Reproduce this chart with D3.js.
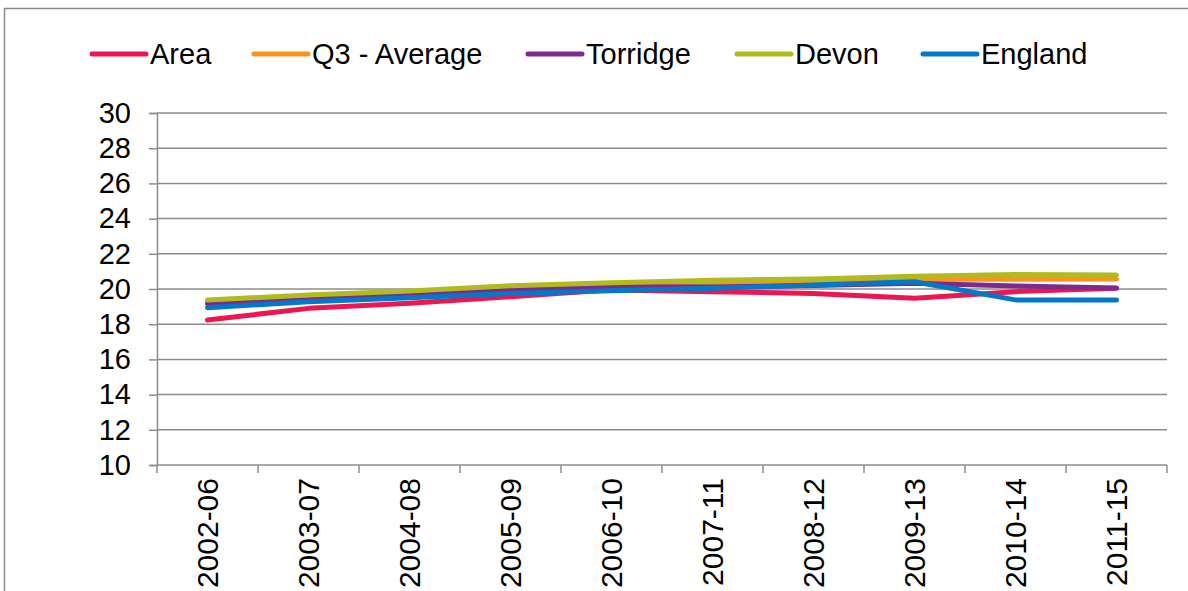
<!DOCTYPE html>
<html><head><meta charset="utf-8">
<script src="https://cdn.jsdelivr.net/npm/d3@7"></script>
<style>body{margin:0;background:#fff;}svg{display:block;font-family:Arial,"Liberation Sans",sans-serif;}</style>
</head><body>
<svg id="c" width="1188" height="591"></svg>
<script>
const categories = ["2002-06","2003-07","2004-08","2005-09","2006-10","2007-11","2008-12","2009-13","2010-14","2011-15"];
const seriesNames = ["Area","Q3 - Average","Torridge","Devon","England"];
const seriesColors = ["#ED1651","#F7941D","#7D2A8F","#B2BB1E","#0079C8"];
const area     = [18.24,18.90,19.19,19.56,19.95,19.85,19.75,19.47,19.85,20.04];
const q3avg    = [19.30,19.60,19.85,20.10,20.30,20.32,20.45,20.55,20.55,20.57];
const torridge = [19.15,19.40,19.70,19.95,20.13,20.12,20.20,20.32,20.17,20.05];
const devon    = [19.38,19.66,19.89,20.19,20.36,20.50,20.57,20.72,20.83,20.80];
const england  = [18.94,19.28,19.50,19.75,19.90,20.04,20.23,20.41,19.38,19.38];
const yTicks = [10,12,14,16,18,20,22,24,26,28,30];
const allSeries = [area,q3avg,torridge,devon,england];

const svg = d3.select("#c");
const L=157,R=1167,T=113,B=465;
const x = d3.scaleBand().domain(categories).range([L,R]);
const y = d3.scaleLinear().domain([10,30]).range([B,T]);

// outer border
svg.append("rect").attr("x",4.5).attr("y",8.5).attr("width",1200).attr("height",600)
  .attr("fill","none").attr("stroke","#8a8a8a").attr("stroke-width",1.5);

// gridlines
svg.append("g").selectAll("line").data(yTicks.filter(d=>d>10)).join("line")
  .attr("x1",L).attr("x2",R).attr("y1",d=>y(d)).attr("y2",d=>y(d))
  .attr("stroke","#8c8c8c").attr("stroke-width",1.5);

// y axis
const yAxis = svg.append("g").attr("transform",`translate(${L},0)`)
  .call(d3.axisLeft(y).tickValues(yTicks).tickSize(8).tickPadding(18));
yAxis.select(".domain").attr("stroke","#8c8c8c").attr("stroke-width",1.5);
yAxis.selectAll(".tick line").attr("stroke","#8c8c8c").attr("stroke-width",1.5);
yAxis.selectAll("text").attr("font-size",29).attr("fill","#000").attr("font-family","Arial, 'Liberation Sans', sans-serif");

// x axis
const xAxisG = svg.append("g").attr("transform",`translate(0,${B})`);
xAxisG.append("line").attr("x1",L).attr("x2",R).attr("stroke","#8c8c8c").attr("stroke-width",1.5);
const bounds = categories.map(c=>x(c)).concat([R]);
xAxisG.selectAll("line.t").data(bounds).join("line").attr("class","t")
  .attr("x1",d=>d).attr("x2",d=>d).attr("y1",0).attr("y2",8)
  .attr("stroke","#8c8c8c").attr("stroke-width",1.5);
xAxisG.selectAll("text").data(categories).join("text")
  .attr("transform",d=>`translate(${x(d)+x.bandwidth()/2},13) rotate(-90)`)
  .attr("text-anchor","end").attr("dominant-baseline","central")
  .attr("font-size",30).attr("fill","#000").text(d=>d);

// lines
const line = d3.line().x((d,i)=>x(categories[i])+x.bandwidth()/2).y(d=>y(d));
svg.append("g").selectAll("path").data(allSeries).join("path")
  .attr("d",d=>line(d)).attr("fill","none")
  .attr("stroke",(d,i)=>seriesColors[i]).attr("stroke-width",5)
  .attr("stroke-linecap","round").attr("stroke-linejoin","round");

// legend
const legX = [92,254,528,737,923];
const lg = svg.append("g").selectAll("g").data(seriesNames).join("g")
  .attr("transform",(d,i)=>`translate(${legX[i]},54)`);
lg.append("line").attr("x1",0).attr("x2",54).attr("stroke",(d,i)=>seriesColors[i])
  .attr("stroke-width",5).attr("stroke-linecap","round");
lg.append("text").attr("x",58).attr("dominant-baseline","central").attr("font-size",29)
  .attr("fill","#000").text(d=>d);
</script>
</body></html>
